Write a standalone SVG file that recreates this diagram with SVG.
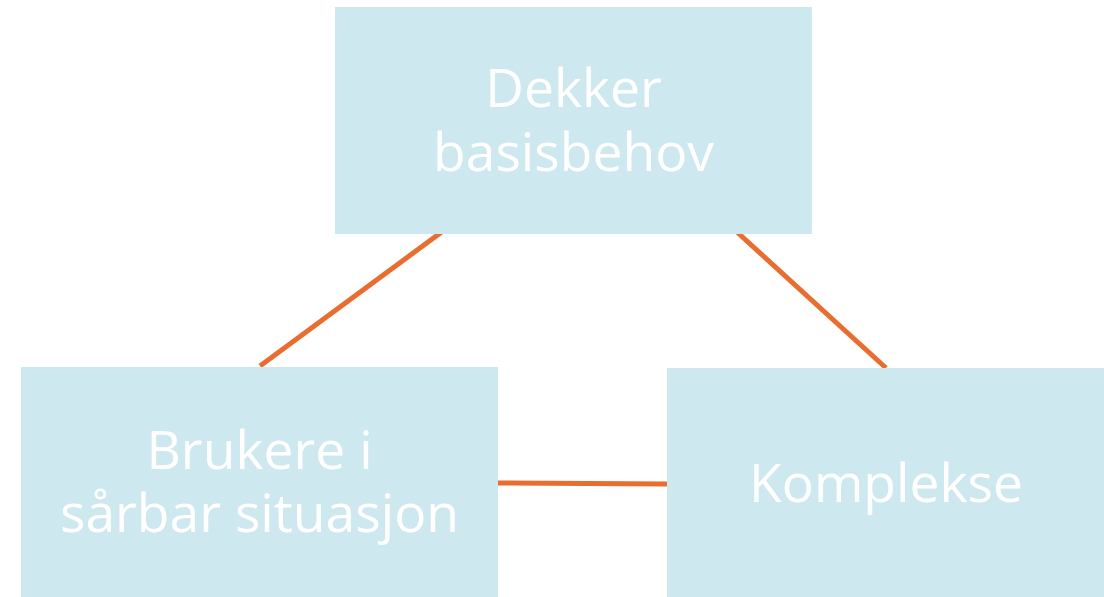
<svg xmlns="http://www.w3.org/2000/svg" width="1104" height="597" viewBox="0 0 1104 597">
<style>
.box{fill:#cde8ee}
.t{font-family:"Open Sans","Liberation Sans",sans-serif;font-size:53.4px;fill:#ffffff;text-anchor:middle}
.c{stroke:#e86d2f;stroke-width:5;fill:none}
</style>
<rect width="1104" height="597" fill="#ffffff"/>
<g id="connectors">
<line class="c" x1="443" y1="231" x2="260" y2="366"/>
<line class="c" x1="737" y1="232" x2="886" y2="368"/>
<line class="c" x1="498" y1="483" x2="667" y2="484"/>
</g>
<g id="node-top">
<rect class="box" x="335" y="7" width="477" height="227"/>
<text class="t" x="573.5" y="107">Dekker</text>
<text class="t" x="573.5" y="171">basisbehov</text>
</g>
<g id="node-left">
<rect class="box" x="21" y="367" width="477" height="230"/>
<text class="t" x="259.5" y="469">Brukere i</text>
<text class="t" x="259.5" y="532">sårbar situasjon</text>
</g>
<g id="node-right">
<rect class="box" x="667" y="368" width="437" height="229"/>
<text class="t" x="886" y="502">Komplekse</text>
</g>
</svg>
